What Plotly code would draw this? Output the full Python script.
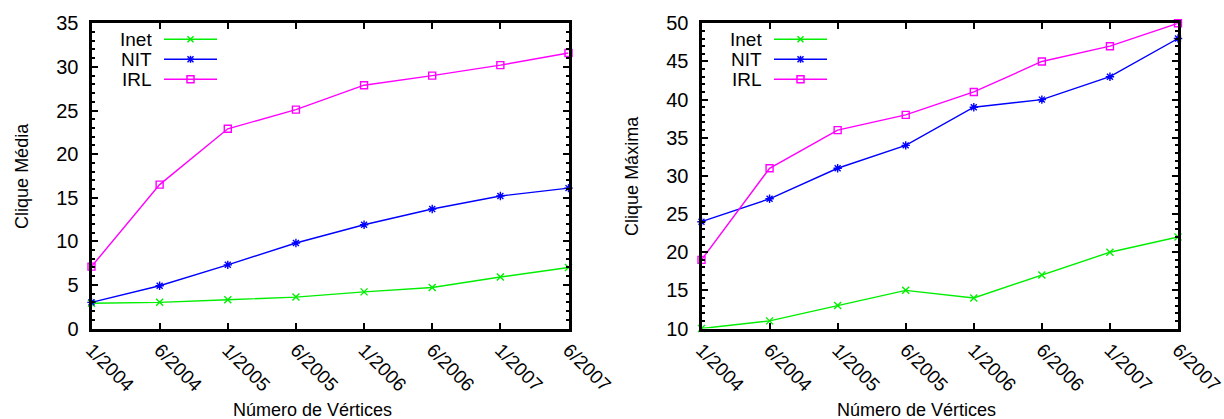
import plotly.graph_objects as go

# ---------------- data ----------------
periods = ["1/2004", "6/2004", "1/2005", "6/2005", "1/2006", "6/2006", "1/2007", "6/2007"]
series_names = ["Inet", "NIT", "IRL"]

avg_inet = [2.9, 3.0, 3.3, 3.6, 4.2, 4.7, 5.9, 7.0]
avg_nit = [3.0, 4.9, 7.3, 9.8, 11.9, 13.7, 15.2, 16.1]
avg_irl = [7.1, 16.5, 22.9, 25.1, 27.9, 29.0, 30.2, 31.6]

max_inet = [10, 11, 13, 15, 14, 17, 20, 22]
max_nit = [24, 27, 31, 34, 39, 40, 43, 48]
max_irl = [19, 31, 36, 38, 41, 45, 47, 50]

# ---------------- style ----------------
W, H = 1224, 419
FONT = "Liberation Sans, Arial, sans-serif"
colors = {"Inet": "#00ee00", "NIT": "#0000ff", "IRL": "#ff00ff"}
symbols = {"Inet": "x-thin-open", "NIT": "asterisk-open", "IRL": "square-open"}

T, B = 23.3, 328.5
panels = [
    dict(L=91.5, R=568.5, ylabel="Clique Média", ylab_x=22, xlab_x=312,
         yrange=[0, 35], data=[avg_inet, avg_nit, avg_irl]),
    dict(L=701.5, R=1178.0, ylabel="Clique Máxima", ylab_x=632, xlab_x=916,
         yrange=[10, 50], data=[max_inet, max_nit, max_irl]),
]


def px(x):
    return x / W


def py(y):
    return 1 - y / H


fig = go.Figure()
annotations = []
shapes = []

for i, p in enumerate(panels):
    ax = "" if i == 0 else str(i + 1)
    for name, vals in zip(series_names, p["data"]):
        fig.add_trace(go.Scatter(
            x=list(range(len(periods))), y=vals, mode="lines+markers",
            name=name, showlegend=False, cliponaxis=False,
            line=dict(color=colors[name], width=1.4),
            marker=dict(symbol=symbols[name], size=7,
                        color=colors[name],
                        line=dict(color=colors[name], width=1.4)),
            xaxis="x" + ax, yaxis="y" + ax,
        ))

    xaxis = dict(
        domain=[px(p["L"]), px(p["R"])], range=[0, len(periods) - 1],
        tickmode="array", tickvals=list(range(len(periods))), ticktext=periods,
        tickangle=45, ticks="inside", ticklen=6, tickwidth=2, tickcolor="black",
        showline=True, linewidth=3, linecolor="black", mirror="allticks",
        showgrid=False, zeroline=False, automargin=False,
        ticklabeloverflow="allow",
        tickfont=dict(family=FONT, size=19, color="black"),
        anchor="y" + ax, fixedrange=True,
    )
    yaxis = dict(
        domain=[py(B), py(T)], range=p["yrange"], dtick=5,
        ticks="inside", ticklen=6, tickwidth=2, tickcolor="black",
        minor=dict(dtick=1, ticks="inside", ticklen=3, tickwidth=1.5, tickcolor="black"),
        showline=True, linewidth=3, linecolor="black", mirror="allticks",
        showgrid=False, zeroline=False, ticklabelstandoff=6, automargin=False,
        ticklabeloverflow="allow",
        tickfont=dict(family=FONT, size=20, color="black"),
        anchor="x" + ax, fixedrange=True,
    )
    fig.update_layout(**{"xaxis" + ax: xaxis, "yaxis" + ax: yaxis})

    # axis titles
    annotations.append(dict(
        text="Número de Vértices", x=px(p["xlab_x"]), y=py(410), xref="paper", yref="paper",
        showarrow=False, xanchor="center", yanchor="middle",
        font=dict(family=FONT, size=18, color="black")))
    annotations.append(dict(
        text=p["ylabel"], x=px(p["ylab_x"]), y=py((T + B) / 2), xref="paper", yref="paper",
        showarrow=False, xanchor="center", yanchor="middle", textangle=-90,
        font=dict(family=FONT, size=18, color="black")))

    # gnuplot-style key (text left, sample right)
    for k, name in enumerate(series_names):
        yy = T + 16 + 20 * k
        annotations.append(dict(
            text=name, x=px(p["L"] + 62), y=py(yy), xref="paper", yref="paper",
            showarrow=False, xanchor="right", yanchor="middle",
            font=dict(family=FONT, size=19, color="black")))
        c = colors[name]
        shapes.append(dict(type="line", xref="paper", yref="paper",
                           x0=px(p["L"] + 72.5), x1=px(p["L"] + 125.5), y0=py(yy), y1=py(yy),
                           line=dict(color=c, width=1.5)))
        mx = p["L"] + 99
        if name == "IRL":
            shapes.append(dict(type="rect", xref="paper", yref="paper",
                               x0=px(mx - 3.5), x1=px(mx + 3.5), y0=py(yy - 3.5), y1=py(yy + 3.5),
                               line=dict(color=c, width=1.5)))
        else:
            for dx0, dy0, dx1, dy1 in [(-3, -3, 3, 3), (-3, 3, 3, -3)]:
                shapes.append(dict(type="line", xref="paper", yref="paper",
                                   x0=px(mx + dx0), x1=px(mx + dx1), y0=py(yy + dy0), y1=py(yy + dy1),
                                   line=dict(color=c, width=1.5)))
            if name == "NIT":
                for dx0, dy0, dx1, dy1 in [(0, -3.5, 0, 3.5), (-3.5, 0, 3.5, 0)]:
                    shapes.append(dict(type="line", xref="paper", yref="paper",
                                       x0=px(mx + dx0), x1=px(mx + dx1), y0=py(yy + dy0), y1=py(yy + dy1),
                                       line=dict(color=c, width=1.5)))

fig.update_layout(
    width=W, height=H, margin=dict(l=0, r=0, t=0, b=0, autoexpand=False),
    paper_bgcolor="white", plot_bgcolor="white",
    showlegend=False, annotations=annotations, shapes=shapes,
    font=dict(family=FONT, size=18, color="black"),
)

fig.write_html("out.html")
